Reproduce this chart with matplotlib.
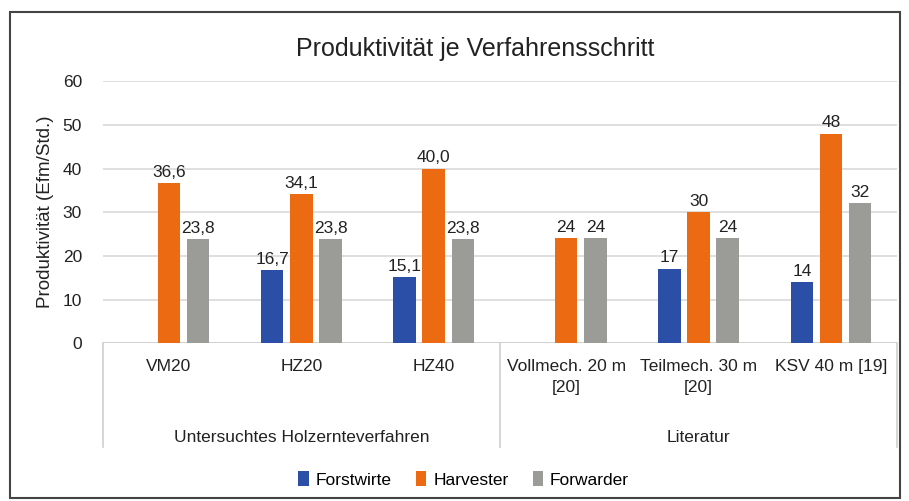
import matplotlib
matplotlib.use("Agg")
import matplotlib.pyplot as plt
from matplotlib.patches import Rectangle, Patch
from matplotlib.lines import Line2D
import numpy as np

plt.rcParams["font.family"] = ["Liberation Sans", "DejaVu Sans"]

_BLUE = "#2b4fa6"
_ORANGE = "#ec6a12"
_GRAY = "#9b9b97"
_TEXT = "#222222"

categories = ["VM20", "HZ20", "HZ40", "Vollmech. 20 m\n[20]", "Teilmech. 30 m\n[20]", "KSV 40 m [19]"]
groups = ["Untersuchtes Holzernteverfahren", "Literatur"]
group_sizes = [3, 3]
series_names = ["Forstwirte", "Harvester", "Forwarder"]
forstwirte = [None, 16.7, 15.1, None, 17, 14]
harvester = [36.6, 34.1, 40.0, 24, 30, 48]
forwarder = [23.8, 23.8, 23.8, 24, 24, 32]
label_decimals = [1, 1, 1, 0, 0, 0]
y_ticks = [0, 10, 20, 30, 40, 50, 60]


def _fmt(v, dec):
    if dec == 0:
        return f"{v:.0f}"
    return f"{v:.{dec}f}".replace(".", ",")


fig = plt.figure(figsize=(9.09, 5.01), dpi=100)
ax = fig.add_axes([0.113, 0.315, 0.874, 0.523])

x = np.arange(len(categories))
width = 0.17
step = 0.22
series = [forstwirte, harvester, forwarder]
colors = [_BLUE, _ORANGE, _GRAY]

for i, (vals, col) in enumerate(zip(series, colors)):
    offs = (i - 1) * step
    for xi, v, dec in zip(x, vals, label_decimals):
        if v is None:
            continue
        ax.bar(xi + offs, v, width=width, color=col, zorder=3)
        ax.text(xi + offs, v + 0.8, _fmt(v, dec), ha="center", va="bottom",
                fontsize=12.5, color=_TEXT, zorder=4)

ax.set_xlim(-0.5, len(categories) - 0.5)
ax.set_ylim(0, 60)
ax.set_yticks(y_ticks)
ax.set_yticklabels([str(t) for t in y_ticks], fontsize=12.5, color=_TEXT)
ax.yaxis.grid(True, color="#d9d9d9", linewidth=1.2, zorder=0)
ax.set_axisbelow(True)
ax.tick_params(axis="y", length=0, pad=15)
ax.tick_params(axis="x", length=0)
ax.set_xticks([])
for s in ["top", "right", "left", "bottom"]:
    ax.spines[s].set_visible(False)
ax.axhline(0, color="#cfcfcf", linewidth=1.2, zorder=2)

ax.set_ylabel("Produktivität (Efm/Std.)", fontsize=13.5, color=_TEXT, labelpad=6)
fig.text(0.523, 0.902, "Produktivität je Verfahrensschritt", ha="center", va="center",
         fontsize=18, color=_TEXT)

# category labels below the axis
trans = ax.get_xaxis_transform()
for xi, lab in zip(x, categories):
    ax.text(xi, -0.06, lab, transform=trans, ha="center", va="top",
            fontsize=12.5, color=_TEXT, linespacing=1.5)

# group labels and separators
start = 0
bounds = [-0.5]
for g, n in zip(groups, group_sizes):
    center = start + (n - 1) / 2
    ax.text(center, -0.33, g, transform=trans, ha="center", va="top",
            fontsize=12.5, color=_TEXT)
    start += n
    bounds.append(start - 0.5)
for b in bounds:
    ax.add_line(Line2D([b, b], [0, -0.395], transform=trans, color="#cfcfcf",
                       linewidth=1.2, clip_on=False))

handles = [Patch(facecolor=c, edgecolor="none") for c in colors]
fig.legend(handles, series_names, loc="center", bbox_to_anchor=(0.51, 0.043),
           ncol=3, frameon=False, fontsize=12.5, handlelength=0.6,
           handleheight=0.9, handletextpad=0.4, columnspacing=1.4)

fig.add_artist(Rectangle((0.011, 0.006), 0.979, 0.97, transform=fig.transFigure,
                         fill=False, edgecolor="#444444", linewidth=1.5))

fig.savefig("out.png", dpi=100)
